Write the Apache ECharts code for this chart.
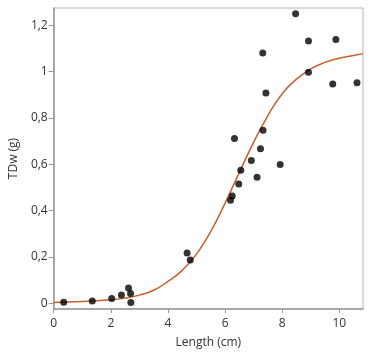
<!DOCTYPE html>
<html>
<head>
<meta charset="utf-8">
<script src="https://cdn.jsdelivr.net/npm/echarts@6/dist/echarts.min.js"></script>
<style>html,body{margin:0;padding:0;background:#fff}#c{width:380px;height:361px}</style>
</head>
<body>
<div id="c"></div>
<script>
// Observed data: length (cm) and TDw (g)
const pointX = [0.35, 1.35, 2.03, 2.37, 2.62, 2.69, 2.70, 4.67, 4.78,
  6.33, 7.33, 7.24, 6.92, 7.93, 6.55, 7.12, 6.48, 6.25, 6.19,
  8.47, 8.92, 9.88, 7.32, 8.92, 9.77, 10.62, 7.43];
const pointY = [0.004, 0.010, 0.020, 0.035, 0.066, 0.042, 0.003, 0.217, 0.187,
  0.711, 0.747, 0.667, 0.616, 0.599, 0.574, 0.544, 0.515, 0.463, 0.445,
  1.250, 1.133, 1.139, 1.081, 0.998, 0.947, 0.952, 0.908];

// Fitted curve
const curveX = [0, 1, 2, 2.5, 3, 3.5, 4, 4.5, 5, 5.5, 6, 6.5, 7, 7.5, 8, 8.5, 9, 9.5, 10, 10.5, 10.83];
const curveY = [0.003, 0.007, 0.015, 0.022, 0.035, 0.056, 0.094, 0.142, 0.212, 0.310, 0.432, 0.565, 0.695, 0.810, 0.905, 0.968, 1.012, 1.040, 1.058, 1.070, 1.078];

const xTicks = [0, 2, 4, 6, 8, 10];
const yTicks = [0, 0.2, 0.4, 0.6, 0.8, 1, 1.2];

const font = '"Open Sans", "Noto Sans", sans-serif';
const chart = echarts.init(document.getElementById('c'), null, {renderer: 'canvas'});
chart.setOption({
  animation: false,
  grid: {left: 53, top: 8, right: 17, bottom: 52, show: true, borderColor: '#b4b4b4', borderWidth: 1},
  xAxis: {
    type: 'value', min: 0, max: 10.83,
    name: 'Length (cm)', nameLocation: 'middle', nameGap: 28,
    nameTextStyle: {fontFamily: font, fontSize: 12, color: '#333'},
    axisLine: {show: true, onZero: false, lineStyle: {color: '#999', width: 1.5}},
    axisTick: {show: true, length: 4, customValues: xTicks, lineStyle: {color: '#999'}},
    axisLabel: {customValues: xTicks, fontFamily: font, fontSize: 12, color: '#333', margin: 9},
    splitLine: {show: false}
  },
  yAxis: {
    type: 'value', min: -0.025, max: 1.275,
    name: 'TDw (g)', nameLocation: 'middle', nameGap: 24,
    nameTextStyle: {fontFamily: font, fontSize: 12, color: '#333'},
    axisLine: {show: true, onZero: false, lineStyle: {color: '#999', width: 1.5}},
    axisTick: {show: true, length: 5, customValues: yTicks, lineStyle: {color: '#999'}},
    axisLabel: {customValues: yTicks, fontFamily: font, fontSize: 12, color: '#333', margin: 6,
      formatter: v => String(Math.round(v * 10) / 10).replace('.', ',')},
    splitLine: {show: false}
  },
  series: [
    {
      type: 'line', data: curveX.map((x, i) => [x, curveY[i]]),
      smooth: 0.5, showSymbol: false, symbol: 'none',
      lineStyle: {color: '#c8602a', width: 1.5}, z: 2
    },
    {
      type: 'scatter', data: pointX.map((x, i) => [x, pointY[i]]),
      symbol: 'circle', symbolSize: 7,
      itemStyle: {color: '#000'}, z: 3
    }
  ]
});
</script>
</body>
</html>
